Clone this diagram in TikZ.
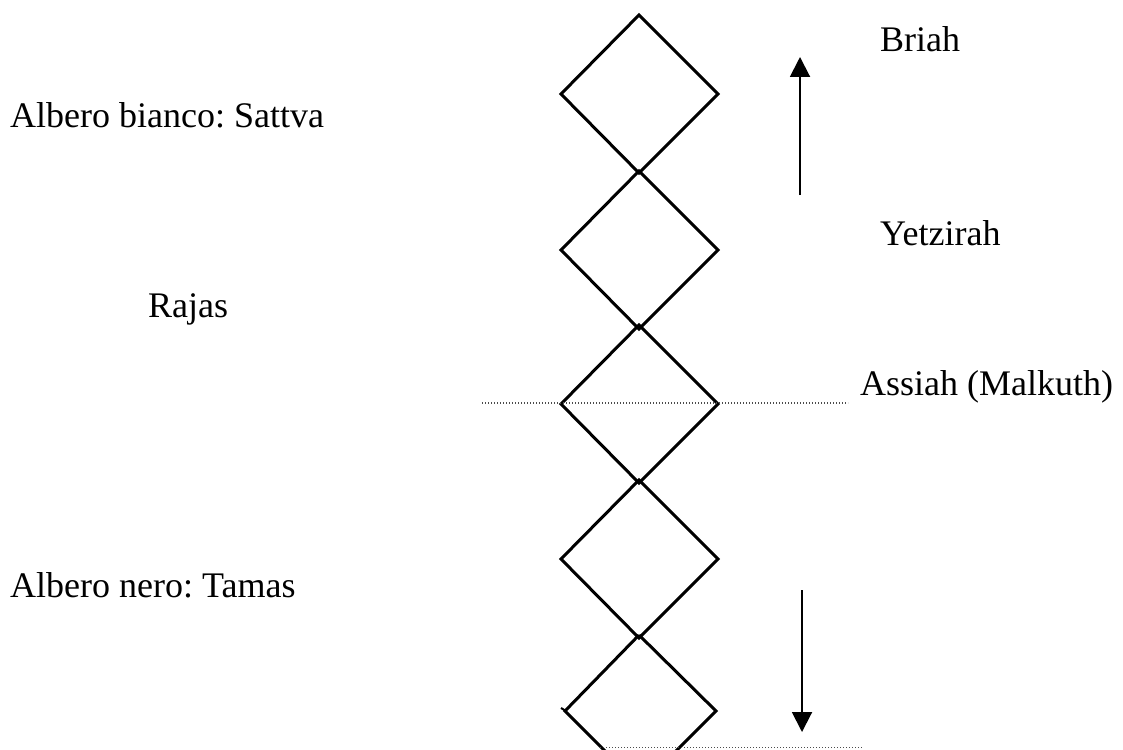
\documentclass[tikz,border=0pt]{standalone}
\usepackage{fontspec}
\setmainfont{Liberation Serif}
\usetikzlibrary{arrows.meta}
\frenchspacing
\begin{document}
\begin{tikzpicture}[x=1pt,y=-1pt,
  dia/.style={line width=3pt,line join=miter},
  dots/.style={line width=1.2pt,dash pattern=on 1.2pt off 1.8pt,black!70},
  arr/.style={line width=2pt,-{Triangle[length=20pt,width=20pt]}},
  lbl/.style={anchor=base west,inner sep=0pt,font=\fontsize{36}{40}\selectfont}]
\useasboundingbox (0,0) rectangle (1123,749);
\clip (0,0) rectangle (1123,749);
% diamonds
\foreach \i/\cy in {1/94,2/250,3/404,4/559}{
  \draw[dia] (639,\cy-79) -- (718,\cy) -- (639,\cy+79) -- (561,\cy) -- cycle;
}
\draw[dia] (639,635) -- (716,711) -- (716-45,711+45);
\draw[dia] (639,635) -- (565,711) -- (565+45,711+45);
\draw[line width=2pt] (566,711) -- (561,708);
% dotted lines
\coordinate (m1) at (482,403);
\coordinate (m2) at (848,403);
\draw[dots] (m1) -- (m2);
\coordinate (b1) at (600,747.5);
\coordinate (b2) at (862,747.5);
\draw[dots] (b1) -- (b2);
% arrows
\coordinate (u1) at (800,195);
\coordinate (u2) at (800,57);
\draw[arr] (u1) -- (u2);
\coordinate (d1) at (802,590);
\coordinate (d2) at (802,732);
\draw[arr] (d1) -- (d2);
% labels
\node[lbl] (briah) at (880,52) {Briah};
\node[lbl] (sattva) at (10,128) {Albero bianco: Sattva};
\node[lbl] (yetz) at (880,245) {Yetzirah};
\node[lbl] (rajas) at (148,317) {Rajas};
\node[lbl] (assiah) at (860,395) {Assiah (Malkuth)};
\node[lbl] (tamas) at (10,597) {Albero nero: Tamas};
\end{tikzpicture}
\end{document}
